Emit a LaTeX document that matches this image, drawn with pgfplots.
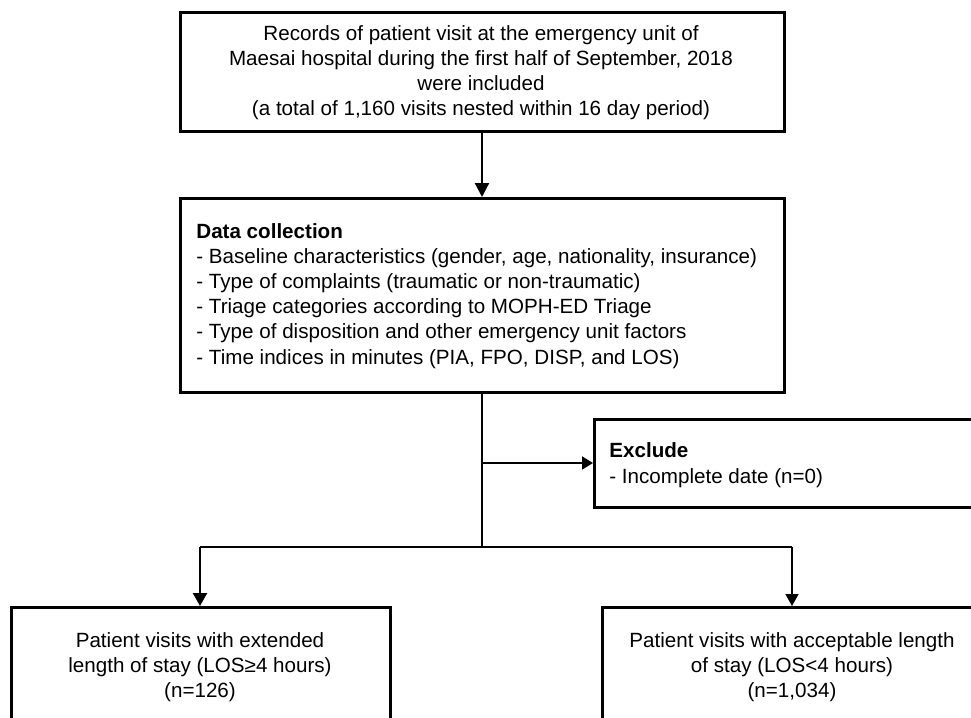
\documentclass[border=0pt]{standalone}
\usepackage{fontspec}
\setmainfont{Liberation Sans}
\usepackage{pgfplots}
\pgfplotsset{compat=1.18}
\usetikzlibrary{arrows.meta}
\begin{document}
\begin{tikzpicture}
\begin{axis}[name=ax, width=485.5pt, height=359pt, scale only axis,
  xmin=0, xmax=971, ymin=0, ymax=718, y dir=reverse, hide axis, clip=true]
% boxes
\addplot[draw=black, line width=1.5pt, fill=white, line join=miter] coordinates {(180,12) (784,12) (784,131) (180,131)} -- cycle;
\addplot[draw=black, line width=1.5pt, fill=white, line join=miter] coordinates {(180,198) (784,198) (784,392) (180,392)} -- cycle;
\addplot[draw=black, line width=1.5pt, fill=white, line join=miter] coordinates {(594,419) (990,419) (990,507) (594,507)} -- cycle;
\addplot[draw=black, line width=1.5pt, fill=white, line join=miter] coordinates {(11,607) (390,607) (390,740) (11,740)} -- cycle;
\addplot[draw=black, line width=1.5pt, fill=white, line join=miter] coordinates {(602,607) (990,607) (990,740) (602,740)} -- cycle;
% connectors
\addplot[draw=black, line width=1.1pt, -{Triangle[length=7pt,width=7pt]}] coordinates {(482,131) (482,197)};
\addplot[draw=black, line width=0.85pt] coordinates {(482,392) (482,547)};
\addplot[draw=black, line width=0.85pt, -{Triangle[length=5.5pt,width=6.5pt]}] coordinates {(482,463) (593,463)};
\addplot[draw=black, line width=0.85pt] coordinates {(200,547) (792,547)};
\addplot[draw=black, line width=1.2pt, -{Triangle[length=6.5pt,width=7pt]}] coordinates {(200,546.5) (200,606)};
\addplot[draw=black, line width=0.85pt, -{Triangle[length=6pt,width=6.5pt]}] coordinates {(792,546.5) (792,606)};
% texts
\tikzset{t/.style={inner sep=0pt, font=\fontsize{10.3pt}{12pt}\selectfont}}
\node[t, anchor=base] at (axis cs:481,40) {Records of patient visit at the emergency unit of};
\node[t, anchor=base] at (axis cs:481,65) {Maesai hospital during the first half of September, 2018};
\node[t, anchor=base] at (axis cs:481,90.5) {were included};
\node[t, anchor=base] at (axis cs:481,115.5) {(a total of 1,160 visits nested within 16 day period)};
\node[t, anchor=base west] at (axis cs:196,238) {\bfseries Data collection};
\node[t, anchor=base west] at (axis cs:196,263) {- Baseline characteristics (gender, age, nationality, insurance)};
\node[t, anchor=base west] at (axis cs:196,288) {- Type of complaints (traumatic or non-traumatic)};
\node[t, anchor=base west] at (axis cs:196,313) {- Triage categories according to MOPH-ED Triage};
\node[t, anchor=base west] at (axis cs:196,338.5) {- Type of disposition and other emergency unit factors};
\node[t, anchor=base west] at (axis cs:196,364) {- Time indices in minutes (PIA, FPO, DISP, and LOS)};
\node[t, anchor=base west] at (axis cs:609,457) {\bfseries Exclude};
\node[t, anchor=base west] at (axis cs:609,483) {- Incomplete date (n=0)};
\node[t, anchor=base] at (axis cs:200,647) {Patient visits with extended};
\node[t, anchor=base] at (axis cs:200,672) {length of stay (LOS≥4 hours)};
\node[t, anchor=base] at (axis cs:200,697) {(n=126)};
\node[t, anchor=base] at (axis cs:792,647) {Patient visits with acceptable length};
\node[t, anchor=base] at (axis cs:792,672) {of stay (LOS<4 hours)};
\node[t, anchor=base] at (axis cs:792,697) {(n=1,034)};
\end{axis}
\pgfresetboundingbox
\path (ax.south west) rectangle (ax.north east);
\end{tikzpicture}
\end{document}
